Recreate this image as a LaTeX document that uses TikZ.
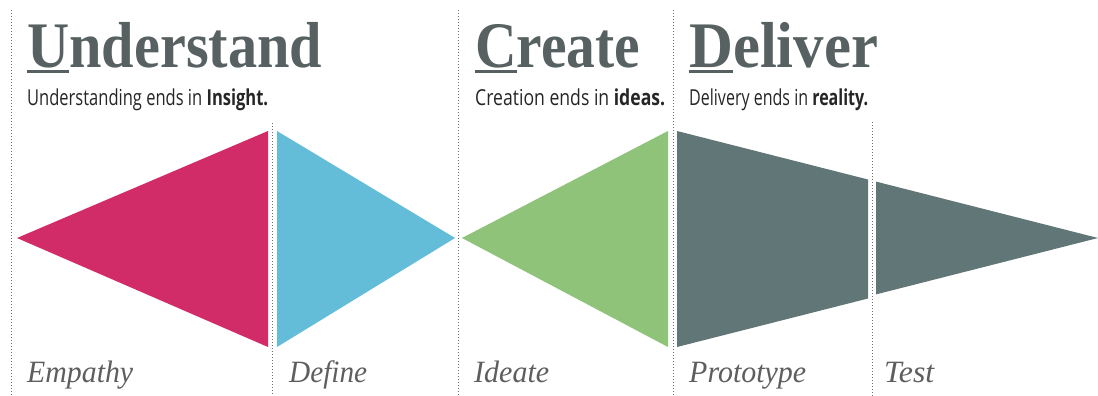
\documentclass[tikz,border=0pt]{standalone}
\usepackage{fontspec}
\setmainfont{Liberation Serif}
\newfontfamily\headfont{Liberation Serif}
\newfontfamily\subfont{Open Sans}
\definecolor{pinkc}{HTML}{D12B68}
\definecolor{bluec}{HTML}{63BDD9}
\definecolor{greenc}{HTML}{8EC379}
\definecolor{greyc}{HTML}{607677}
\definecolor{headc}{HTML}{586161}
\definecolor{labc}{HTML}{5E5E5E}
\definecolor{subc}{HTML}{262626}
\definecolor{dotc}{HTML}{6E6E6E}
\newcommand\mkfit[2]{\setbox0=\hbox{#2}\pgfmathsetmacro\fitsc{#1/\wd0}\scalebox{\fitsc}[1]{\box0}}
\newcommand\firstul[1]{\setbox2=\hbox{#1}\rlap{\vrule height -3pt depth 6pt width \wd2}\box2}
\begin{document}
\begin{tikzpicture}[x=1pt,y=-1pt,
  sep/.style={draw=dotc, line width=1pt, dash pattern=on 1pt off 2pt},
  head/.style={anchor=base west, inner sep=0pt, text=headc, font=\headfont\bfseries\fontsize{65}{65}\selectfont},
  subline/.style={anchor=base west, inner sep=0pt, text=subc, font=\subfont\fontsize{22}{22}\selectfont},
  lab/.style={anchor=base west, inner sep=0pt, text=labc, font=\itshape\fontsize{31}{31}\selectfont}]
\useasboundingbox[fill=white] (0,0) rectangle (1098,396);
% dotted separators
\coordinate (s1t) at (11,10);   \coordinate (s1b) at (11,396);
\coordinate (s2t) at (272,123); \coordinate (s2b) at (272,396);
\coordinate (s3t) at (458,10);  \coordinate (s3b) at (458,396);
\coordinate (s4t) at (673,10);  \coordinate (s4b) at (673,396);
\coordinate (s5t) at (872,122); \coordinate (s5b) at (872,396);
\foreach \i in {1,...,5} {\draw[sep] (s\i t) -- (s\i b);}
% shapes
\fill[pinkc] (17,238) -- (268,131) -- (268,347) -- cycle;
\fill[bluec] (277,131) -- (455,238) -- (277,347) -- cycle;
\fill[greenc] (462,238) -- (668,131) -- (668,347) -- cycle;
\fill[greyc] (677,131) -- (868,179.5) -- (868,298.5) -- (677,347) -- cycle;
\fill[greyc] (876,181.6) -- (1098,238) -- (876,294.4) -- cycle;
% headings
\node[head] (hU) at (27,67) {\mkfit{295}{\firstul{U}nderstand}};
\node[head] (hC) at (475,67) {\mkfit{165}{\firstul{C}reate}};
\node[head] (hD) at (689,67) {\mkfit{189}{\firstul{D}eliver}};
% sublines
\node[subline] (tU) at (27,106) {\mkfit{241}{Understanding ends in \textbf{Insight.}}};
\node[subline] (tC) at (475,106) {\mkfit{190}{Creation ends in \textbf{ideas.}}};
\node[subline] (tD) at (689,106) {\mkfit{179}{Delivery ends in \textbf{reality.}}};
% bottom labels
\node[lab] (lE) at (27,382) {\mkfit{106}{Empathy}};
\node[lab] (lDe) at (289,382) {\mkfit{78}{Define}};
\node[lab] (lI) at (474,382) {\mkfit{75}{Ideate}};
\node[lab] (lP) at (689,382) {\mkfit{117}{Prototype}};
\node[lab] (lT) at (884,382) {\mkfit{50}{Test}};
\end{tikzpicture}
\end{document}
